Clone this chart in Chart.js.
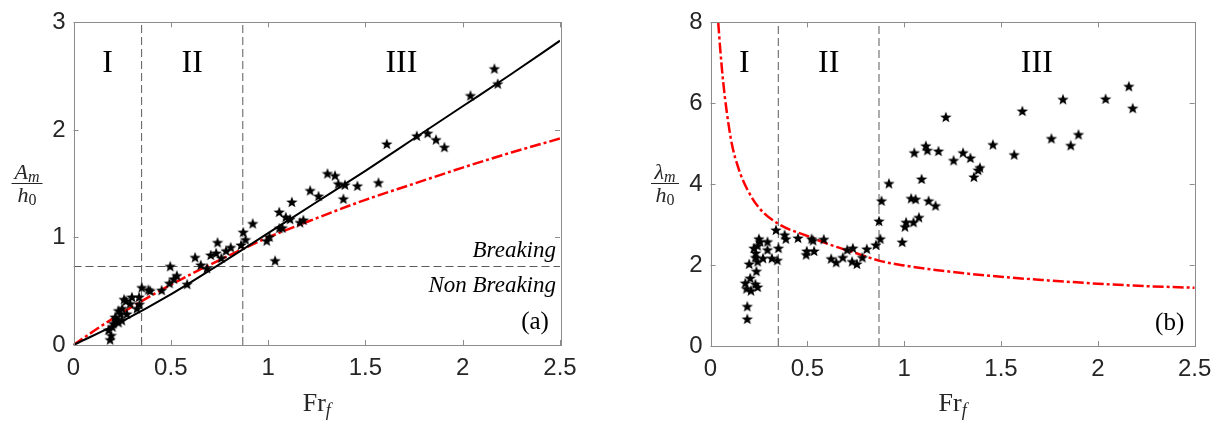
<!DOCTYPE html>
<html>
<head>
<meta charset="utf-8">
<script src="https://cdn.jsdelivr.net/npm/chart.js@4"></script>
<style>
  body { margin: 0; background: #fff; }
  canvas { position: absolute; top: 0; }
</style>
</head>
<body>
<canvas id="ampChart" width="611" height="424" style="left:0"></canvas>
<canvas id="lenChart" width="611" height="424" style="left:611px"></canvas>
<script>
// regime borders (Fr_f) and breaking threshold (A_m/h0)
const regionBounds = [0.35, 0.87];
const regionNames = ["I", "II", "III"];
const breakingLevel = 0.73;

const xTicks = [0, 0.5, 1, 1.5, 2, 2.5];
const ampTicks = [0, 1, 2, 3];
const lenTicks = [0, 2, 4, 6, 8];

// (a) measured amplitude
const ampFr = [0.188, 0.194, 0.18, 0.2, 0.205, 0.231, 0.248, 0.214, 0.22, 0.243, 0.274, 0.231, 0.25, 0.326, 0.339, 0.291, 0.26, 0.30, 0.337, 0.27,
  0.351, 0.385, 0.394, 0.453, 0.497, 0.493, 0.515, 0.531, 0.584, 0.625, 0.654, 0.686, 0.705, 0.733, 0.74, 0.76, 0.784, 0.808, 0.861, 0.872, 0.884, 0.921,
  0.993, 1.007, 1.036, 1.058, 1.073, 1.057, 1.091, 1.113, 1.122, 1.164, 1.181, 1.216, 1.259, 1.305, 1.344, 1.361, 1.395, 1.387, 1.459, 1.567, 1.61,
  1.764, 1.82, 1.863, 1.906, 2.04, 2.163, 2.18];
const ampVal = [0.05, 0.09, 0.14, 0.17, 0.2, 0.21, 0.23, 0.26, 0.24, 0.29, 0.29, 0.32, 0.34, 0.34, 0.38, 0.385, 0.425, 0.446, 0.446, 0.41,
  0.535, 0.514, 0.505, 0.51, 0.732, 0.575, 0.615, 0.646, 0.566, 0.815, 0.745, 0.714, 0.837, 0.855, 0.954, 0.81, 0.877, 0.908, 0.93, 1.05, 0.98, 1.13,
  0.97, 1.006, 0.785, 1.087, 1.09, 1.237, 1.19, 1.17, 1.33, 1.14, 1.163, 1.437, 1.385, 1.595, 1.576, 1.50, 1.49, 1.36, 1.48, 1.51, 1.87,
  1.945, 1.97, 1.91, 1.84, 2.32, 2.57, 2.43];

// (a) fitted line (black) and theory (red)
const fitFr = [0, 0.25, 0.5, 0.75, 1, 1.25, 1.5, 1.75, 2, 2.25, 2.5];
const fitAmp = [0, 0.22, 0.47, 0.75, 1.04, 1.33, 1.62, 1.92, 2.22, 2.52, 2.83];
const theoryFr = [0, 0.125, 0.25, 0.5, 0.75, 1, 1.25, 1.5, 1.75, 2, 2.25, 2.5];
const theoryAmp = [0, 0.155, 0.3, 0.56, 0.79, 1.0, 1.18, 1.35, 1.5, 1.65, 1.79, 1.92];

// (b) measured wavelength
const lenFr = [2.16, 2.18, 2.04, 1.82, 1.61, 1.215, 1.76, 1.90, 1.86, 1.458, 1.568, 1.112, 1.12, 1.052, 1.177, 1.255, 1.304, 1.342, 1.391, 1.382, 1.36,
  0.921, 1.09, 0.883, 1.036, 1.059, 1.126, 1.162, 0.87, 1.076, 1.048, 1.01, 1.004, 0.99, 0.877, 0.854, 0.807, 0.784, 0.756, 0.731, 0.735, 0.706,
  0.683, 0.649, 0.623, 0.585, 0.522, 0.53, 0.535, 0.497, 0.494, 0.452, 0.389, 0.383, 0.351, 0.338, 0.345, 0.317, 0.294, 0.294, 0.271, 0.25, 0.256,
  0.243, 0.224, 0.233, 0.232, 0.243, 0.2, 0.237, 0.205, 0.18, 0.186, 0.232, 0.243, 0.19, 0.19, 0.209];
const lenVal = [6.42, 5.88, 6.11, 6.10, 5.81, 5.66, 5.13, 5.23, 4.96, 4.98, 4.73, 4.95, 4.84, 4.78, 4.82, 4.59, 4.78, 4.65, 4.41, 4.35, 4.18,
  4.02, 4.13, 3.59, 3.65, 3.63, 3.59, 3.47, 3.09, 3.18, 3.06, 3.06, 2.95, 2.57, 2.65, 2.50, 2.40, 2.19, 2.03, 2.09, 2.42, 2.38,
  2.19, 2.07, 2.16, 2.64, 2.65, 2.61, 2.35, 2.35, 2.26, 2.67, 2.65, 2.75, 2.42, 2.87, 2.12, 2.17, 2.58, 2.38, 2.17, 2.65, 2.58,
  2.48, 2.42, 2.30, 2.19, 2.09, 2.03, 1.85, 1.68, 1.56, 1.42, 1.53, 1.46, 0.98, 0.67, 1.37];

// (b) theory curve (red)
const lenTheoryFr = [0.04, 0.05, 0.065, 0.085, 0.11, 0.144, 0.187, 0.25, 0.35, 0.5, 0.62, 0.75, 0.87, 1.0, 1.25, 1.5, 1.75, 2.0, 2.25, 2.5];
const lenTheory = [8.0, 7.35, 6.55, 5.75, 5.0, 4.4, 3.9, 3.42, 3.02, 2.72, 2.5, 2.3, 2.11, 1.99, 1.83, 1.71, 1.62, 1.54, 1.48, 1.44];

const pts = (xs, ys) => xs.map((x, i) => ({ x: x, y: ys[i] }));

function makeStar(r) {
  const s = Math.ceil(r * 2 + 2);
  const c = document.createElement("canvas");
  c.width = c.height = s;
  const g = c.getContext("2d");
  g.beginPath();
  for (let i = 0; i < 10; i++) {
    const rad = i % 2 ? r * 0.42 : r;
    const a = -Math.PI / 2 + i * Math.PI / 5;
    const px = s / 2 + rad * Math.cos(a), py = s / 2 + 0.5 + rad * Math.sin(a);
    if (i) g.lineTo(px, py); else g.moveTo(px, py);
  }
  g.closePath();
  g.fillStyle = "#000";
  g.fill();
  return c;
}
const starImg = makeStar(6);

const serif = '"Liberation Serif", "Times New Roman", serif';
const sans = '"Liberation Sans", Arial, sans-serif';

function subText(ctx, main, sub, cx, base, mainFont, subFont, drop) {
  ctx.font = mainFont;
  const w1 = ctx.measureText(main).width;
  ctx.font = subFont;
  const w2 = ctx.measureText(sub).width;
  const x0 = cx - (w1 + w2) / 2;
  ctx.font = mainFont;
  ctx.fillText(main, x0, base);
  ctx.font = subFont;
  ctx.fillText(sub, x0 + w1, base + drop);
}

const panelDeco = {
  id: "panelDeco",
  afterDatasetsDraw(chart, args, o) {
    const { ctx, chartArea: a, scales: { x, y } } = chart;
    ctx.save();
    // box + inward ticks
    ctx.strokeStyle = "#8c8c8c";
    ctx.lineWidth = 1;
    ctx.strokeRect(Math.round(a.left) + 0.5, Math.round(a.top) + 0.5, Math.round(a.right - a.left), Math.round(a.bottom - a.top));
    ctx.beginPath();
    x.ticks.forEach(t => {
      const p = Math.round(x.getPixelForValue(t.value)) + 0.5;
      ctx.moveTo(p, a.bottom); ctx.lineTo(p, a.bottom - 5);
      ctx.moveTo(p, a.top); ctx.lineTo(p, a.top + 5);
    });
    y.ticks.forEach(t => {
      const p = Math.round(y.getPixelForValue(t.value)) + 0.5;
      ctx.moveTo(a.left, p); ctx.lineTo(a.left + 5, p);
      ctx.moveTo(a.right, p); ctx.lineTo(a.right - 5, p);
    });
    ctx.stroke();

    ctx.fillStyle = "#000";
    ctx.textBaseline = "middle";
    ctx.textAlign = "center";
    // regime names, centred between borders
    const edges = [0].concat(regionBounds, [2.5]);
    ctx.font = "32px " + serif;
    regionNames.forEach((n, i) => {
      ctx.fillText(n, x.getPixelForValue((edges[i] + edges[i + 1]) / 2), a.top + 41);
    });
    // panel tag
    ctx.font = "25px " + serif;
    ctx.fillText(o.tag, a.right - 25, a.bottom - 23);

    if (o.breaking) {
      const by = y.getPixelForValue(breakingLevel);
      ctx.textAlign = "right";
      ctx.font = "italic 23px " + serif;
      ctx.fillText("Breaking", a.right - 4, by - 16);
      ctx.fillText("Non Breaking", a.right - 4, by + 19);
    }

    // x title Fr_f
    ctx.textAlign = "left";
    ctx.textBaseline = "alphabetic";
    ctx.fillStyle = "#262626";
    subText(ctx, "Fr", "f", (a.left + a.right) / 2, 411, "26px " + serif, "italic 18px " + serif, 5);

    // y title as a fraction
    const cx = o.titleX, bar = 183.5;
    subText(ctx, o.num, "m", cx, 179, "italic 22px " + serif, "italic 16px " + serif, 3);
    subText(ctx, "h", "0", cx, 202, "italic 22px " + serif, "16px " + serif, 3);
    ctx.fillRect(cx - o.barW / 2, bar - 0.5, o.barW, 1);
    ctx.restore();
  }
};

function vLine(v, top) {
  return { data: [{ x: v, y: 0 }, { x: v, y: top }], showLine: true, borderColor: "#5a5a5a", borderWidth: 1,
    borderDash: [8, 4], pointRadius: 0, order: 3 };
}

function axes(yTicks, yMax, yWidth, xHeight) {
  return {
    x: {
      type: "linear", min: 0, max: 2.5,
      afterBuildTicks: s => { s.ticks = xTicks.map(v => ({ value: v })); },
      afterFit: s => { s.height = xHeight; },
      grid: { display: false, drawTicks: false }, border: { display: false },
      ticks: { color: "#262626", font: { family: sans, size: 24 }, padding: 9, maxRotation: 0, callback: v => String(v) }
    },
    y: {
      type: "linear", min: 0, max: yMax,
      afterBuildTicks: s => { s.ticks = yTicks.map(v => ({ value: v })); },
      afterFit: s => { s.width = yWidth; },
      grid: { display: false, drawTicks: false }, border: { display: false },
      ticks: { color: "#262626", font: { family: sans, size: 24 }, padding: 8, callback: v => String(v) }
    }
  };
}

const common = {
  responsive: false,
  animation: false,
  events: [],
  plugins: { legend: { display: false }, tooltip: { enabled: false } }
};

new Chart(document.getElementById("ampChart"), {
  type: "scatter",
  data: {
    datasets: [
      { data: pts(ampFr, ampVal), pointStyle: starImg, order: 0, clip: false },
      { data: pts(fitFr, fitAmp), showLine: true, borderColor: "#000", borderWidth: 2, pointRadius: 0,
        cubicInterpolationMode: "monotone", order: 1 },
      { data: pts(theoryFr, theoryAmp), showLine: true, borderColor: "#ff0000", borderWidth: 2.5, borderDash: [11, 3, 3, 3],
        pointRadius: 0, cubicInterpolationMode: "monotone", order: 2 },
      vLine(regionBounds[0], 3),
      vLine(regionBounds[1], 3),
      { data: [{ x: 0, y: breakingLevel }, { x: 2.5, y: breakingLevel }], showLine: true, borderColor: "#5a5a5a",
        borderWidth: 1, borderDash: [8, 4], pointRadius: 0, order: 3 }
    ]
  },
  options: Object.assign({}, common, {
    layout: { padding: { top: 20, right: 51, left: 0, bottom: 0 } },
    scales: axes(ampTicks, 3, 73.5, 79),
    plugins: Object.assign({}, common.plugins, { panelDeco: { tag: "(a)", breaking: true, num: "A", titleX: 27, barW: 31 } })
  }),
  plugins: [panelDeco]
});

new Chart(document.getElementById("lenChart"), {
  type: "scatter",
  data: {
    datasets: [
      { data: pts(lenFr, lenVal), pointStyle: starImg, order: 0, clip: false },
      { data: pts(lenTheoryFr, lenTheory), showLine: true, borderColor: "#ff0000", borderWidth: 2.5, borderDash: [11, 3, 3, 3],
        pointRadius: 0, cubicInterpolationMode: "monotone", order: 2 },
      vLine(regionBounds[0], 8),
      vLine(regionBounds[1], 8)
    ]
  },
  options: Object.assign({}, common, {
    layout: { padding: { top: 19.5, right: 27.3, left: 0, bottom: 0 } },
    scales: axes(lenTicks, 8, 99.5, 78),
    plugins: Object.assign({}, common.plugins, { panelDeco: { tag: "(b)", breaking: false, num: "\u03bb", titleX: 54, barW: 28 } })
  }),
  plugins: [panelDeco]
});
</script>
</body>
</html>
